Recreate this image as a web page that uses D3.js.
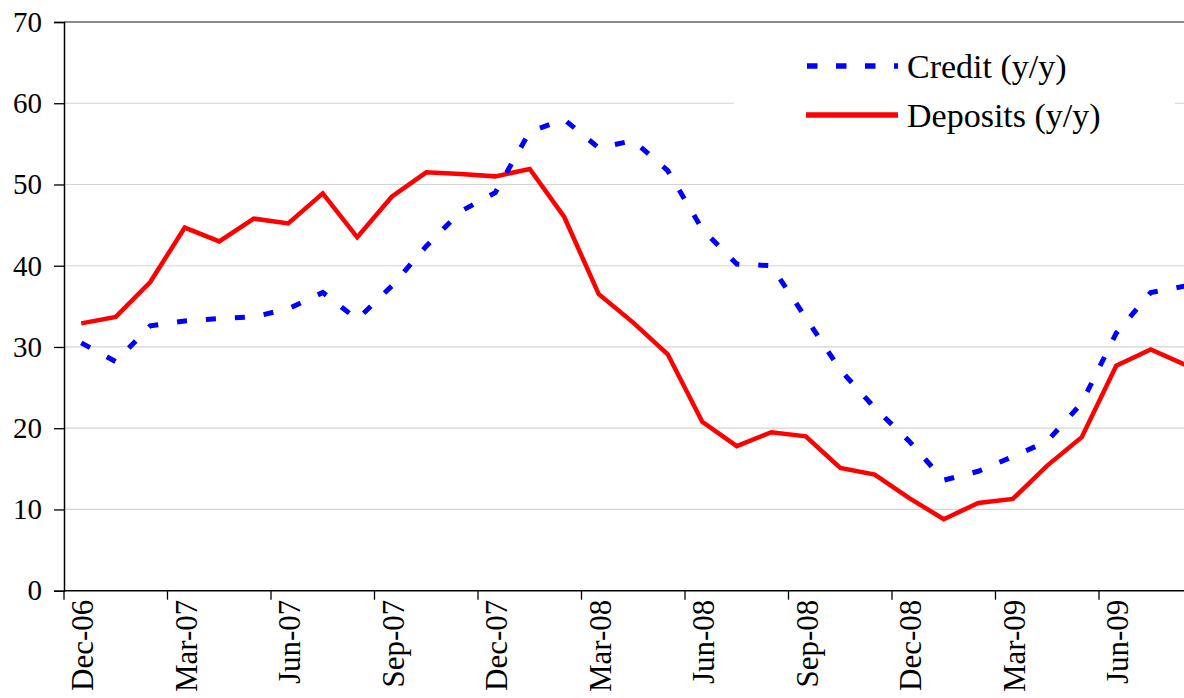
<!DOCTYPE html>
<html>
<head>
<meta charset="utf-8">
<script src="https://cdn.jsdelivr.net/npm/d3@7"></script>
<style>
html,body{margin:0;padding:0;background:#fff;overflow:hidden;}
svg{display:block;}
text{font-family:"Liberation Serif","Times New Roman",serif;fill:#000;}
</style>
</head>
<body>
<svg id="chart" width="1184" height="698"></svg>
<script>
const categories = ["Dec-06","Jan-07","Feb-07","Mar-07","Apr-07","May-07","Jun-07","Jul-07","Aug-07","Sep-07","Oct-07","Nov-07",
  "Dec-07","Jan-08","Feb-08","Mar-08","Apr-08","May-08","Jun-08","Jul-08","Aug-08","Sep-08","Oct-08","Nov-08",
  "Dec-08","Jan-09","Feb-09","Mar-09","Apr-09","May-09","Jun-09","Jul-09","Aug-09"];
const credit = [30.5, 28.2, 32.6, 33.2, 33.5, 33.7, 34.7, 36.7, 33.4, 37.5, 42.4, 46.7,
  49.0, 56.5, 58.0, 54.5, 55.4, 51.7, 44.5, 40.2, 40.0, 33.6, 27.2, 22.5,
  18.4, 13.6, 14.7, 16.5, 18.4, 23.1, 31.7, 36.7, 37.5];
const deposits = [32.9, 33.7, 38.0, 44.7, 43.0, 45.8, 45.2, 48.9, 43.5, 48.5, 51.5, 51.3,
  51.0, 51.9, 46.0, 36.5, 33.0, 29.1, 20.8, 17.8, 19.5, 19.0, 15.1, 14.3,
  11.4, 8.8, 10.8, 11.3, 15.4, 18.9, 27.7, 29.7, 27.8];
const tickLabels = ["Dec-06","Mar-07","Jun-07","Sep-07","Dec-07","Mar-08","Jun-08","Sep-08","Dec-08","Mar-09","Jun-09"];
const yTicks = [0,10,20,30,40,50,60,70];
const seriesNames = ["Credit (y/y)","Deposits (y/y)"];

(function () {
const svg = d3.select("#chart");
const plotLeft = 64, plotTop = 22, plotBottom = 590.7, bandW = 34.5;
const plotRight = plotLeft + categories.length * bandW;

const x = d3.scaleBand().domain(categories).range([plotLeft, plotRight]).padding(0);
const y = d3.scaleLinear().domain([0, 70]).range([plotBottom, plotTop]);

// gridlines
svg.append("g").selectAll("line").data(yTicks.filter(d => d > 0)).join("line")
  .attr("x1", plotLeft).attr("x2", 1184)
  .attr("y1", d => y(d)).attr("y2", d => y(d))
  .attr("stroke", d => d === 70 ? "#8c8c8c" : "#d4d4d4")
  .attr("stroke-width", d => d === 70 ? 2 : 1.2);

// legend background
svg.append("rect").attr("x", 734).attr("y", 36).attr("width", 441).attr("height", 118).attr("fill", "#fff");

// y axis
const yAxis = d3.axisLeft(y).tickValues(yTicks).tickSize(10).tickPadding(12).tickFormat(d3.format("d"));
const gy = svg.append("g").attr("transform", `translate(${plotLeft},0)`).call(yAxis);
gy.select(".domain").attr("stroke", "#000").attr("stroke-width", 1.5);
gy.selectAll(".tick line").attr("stroke", "#000").attr("stroke-width", 1.3);
gy.selectAll(".tick text").style("font-size", "29px");

// x axis
const gx = svg.append("g").attr("transform", `translate(0,${plotBottom})`);
gx.append("line").attr("x1", plotLeft).attr("x2", 1184).attr("y1", 0).attr("y2", 0)
  .attr("stroke", "#000").attr("stroke-width", 1.5);
gx.selectAll("line.tk").data(tickLabels).join("line").attr("class", "tk")
  .attr("x1", d => x(d)).attr("x2", d => x(d)).attr("y1", 0).attr("y2", 9)
  .attr("stroke", "#000").attr("stroke-width", 1.3);
gx.selectAll("text").data(tickLabels).join("text")
  .attr("transform", d => `translate(${x(d) + x.bandwidth() / 2 + 1},9) rotate(-90)`)
  .attr("text-anchor", "end").attr("dy", "0.35em")
  .style("font-size", "31px")
  .text(d => d);

// lines
const line = d3.line().x((d, i) => x(categories[i]) + x.bandwidth() / 2).y(d => y(d));
svg.append("path").datum(deposits).attr("d", line)
  .attr("fill", "none").attr("stroke", "#ff0000").attr("stroke-width", 4.5).attr("stroke-linejoin", "miter");
svg.append("path").datum(credit).attr("d", line)
  .attr("fill", "none").attr("stroke", "#0000ff").attr("stroke-width", 5).attr("stroke-dasharray", "10,19");

// legend
const lg = svg.append("g");
lg.append("line").attr("x1", 807).attr("x2", 898).attr("y1", 66).attr("y2", 66)
  .attr("stroke", "#0000ff").attr("stroke-width", 5.5).attr("stroke-dasharray", "10.5,18.5");
lg.append("line").attr("x1", 806).attr("x2", 898).attr("y1", 115).attr("y2", 115)
  .attr("stroke", "#ff0000").attr("stroke-width", 5.5);
lg.selectAll("text").data(seriesNames).join("text")
  .attr("x", 907).attr("y", (d, i) => 66 + i * 49).attr("dy", "0.35em")
  .style("font-size", "34px").text(d => d);
})();
</script>
</body>
</html>
